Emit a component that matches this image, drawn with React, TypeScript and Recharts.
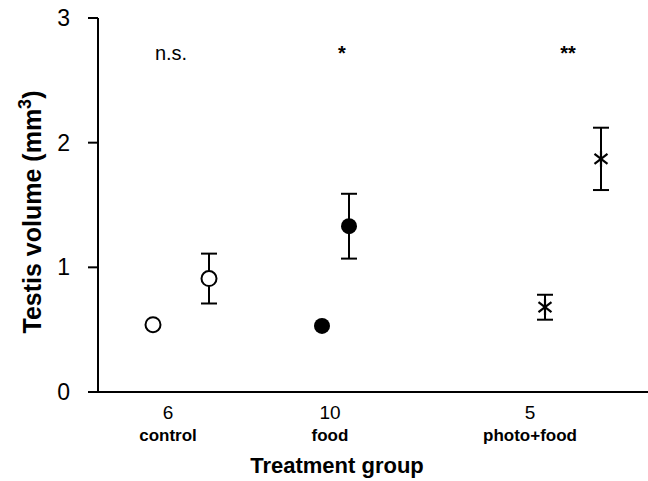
import React from 'react';
import { ErrorBar, Scatter, ScatterChart, XAxis, YAxis } from 'recharts';

// treatment groups and sample sizes shown under the x axis
const groups = ['control', 'food', 'photo+food'];
const sampleSizes = ['6', '10', '5'];
const significance = ['n.s.', '*', '**'];

// positions on the x axis (arbitrary units)
const groupPos = [1.4, 4.64, 8.64];
const beforePos = [1.1, 4.48, 8.94];
const afterPos = [2.22, 5.02, 10.06];
const sigPos = [1.46, 4.88, 9.4];
const sigLevel = 2.7;

// testis volume (mm3), mean and SE
const beforeVolume = [0.54, 0.53, 0.68];
const beforeError = [null, null, 0.1];
const afterVolume = [0.91, 1.33, 1.87];
const afterError = [0.2, 0.26, 0.25];

const FONT = '"Liberation Sans", Arial, sans-serif';

const pointsFor = (g: number) => [
  { x: beforePos[g], y: beforeVolume[g], err: beforeError[g] },
  { x: afterPos[g], y: afterVolume[g], err: afterError[g] },
];

const controlData = pointsFor(0);
const foodData = pointsFor(1);
const photoData = pointsFor(2);
const allData = [...controlData, ...foodData, ...photoData];
const sigData = significance.map((s, i) => ({ x: sigPos[i], y: sigLevel, label: s }));

const OpenCircle = (props: any) => (
  <circle cx={props.cx} cy={props.cy} r={7.5} fill="#fff" stroke="#000" strokeWidth={2} />
);

const FilledCircle = (props: any) => <circle cx={props.cx} cy={props.cy} r={8} fill="#000" />;

const Star = (props: any) => {
  const { cx, cy } = props;
  return (
    <g stroke="#000" strokeWidth={2.2}>
      <line x1={cx} y1={cy - 8} x2={cx} y2={cy + 8} />
      <line x1={cx - 6.5} y1={cy - 5} x2={cx + 6.5} y2={cy + 5} />
      <line x1={cx - 6.5} y1={cy + 5} x2={cx + 6.5} y2={cy - 5} />
    </g>
  );
};

const Nothing = () => <g />;

const SigText = (props: any) => {
  const stars = props.payload.label.startsWith('*');
  return (
    <text
      x={props.cx}
      y={props.cy + 5}
      textAnchor="middle"
      fontSize={stars ? 20 : 20}
      fontWeight={stars ? 'bold' : 'normal'}
      fontFamily={FONT}
      fill="#000"
    >
      {props.payload.label}
    </text>
  );
};

const GroupTick = (props: any) => {
  const { x, y, payload } = props;
  const i = groupPos.indexOf(payload.value);
  return (
    <g fontFamily={FONT} fill="#000">
      <text x={x} y={y + 25} textAnchor="middle" fontSize={19}>
        {sampleSizes[i]}
      </text>
      <text x={x} y={y + 47} textAnchor="middle" fontSize={17} fontWeight="bold">
        {groups[i]}
      </text>
    </g>
  );
};

const App = () => (
  <div style={{ position: 'absolute', left: 0, top: 0 }}>
    <ScatterChart width={648} height={481} margin={{ top: 18, right: 0, bottom: 0, left: 0 }}>
      <XAxis
        type="number"
        dataKey="x"
        domain={[0, 11]}
        ticks={groupPos}
        tick={<GroupTick />}
        tickLine={false}
        tickSize={0}
        height={89}
        axisLine={{ stroke: '#000', strokeWidth: 2 }}
        label={{
          content: () => (
            <text x={337} y={473} textAnchor="middle" fontSize={22} fontWeight="bold" fontFamily={FONT} fill="#000">
              Treatment group
            </text>
          ),
        }}
      />
      <YAxis
        type="number"
        dataKey="y"
        domain={[0, 3]}
        ticks={[0, 1, 2, 3]}
        width={98}
        tickSize={10}
        tickMargin={18}
        axisLine={{ stroke: '#000', strokeWidth: 2 }}
        tickLine={{ stroke: '#000', strokeWidth: 2 }}
        tick={{ fill: '#000', fontSize: 23, fontFamily: FONT }}
        label={{
          content: () => (
            <text
              transform="translate(41,212) rotate(-90)"
              textAnchor="middle"
              fontSize={25}
              fontWeight="bold"
              fontFamily={FONT}
              fill="#000"
            >
              Testis volume (mm<tspan dy={-10} fontSize={18}>3</tspan>
              <tspan dy={10}>)</tspan>
            </text>
          ),
        }}
      />
      <Scatter data={allData} shape={<Nothing />} isAnimationActive={false}>
        <ErrorBar dataKey="err" direction="y" width={8} stroke="#000" strokeWidth={2} />
      </Scatter>
      <Scatter data={controlData} shape={<OpenCircle />} isAnimationActive={false} />
      <Scatter data={foodData} shape={<FilledCircle />} isAnimationActive={false} />
      <Scatter data={photoData} shape={<Star />} isAnimationActive={false} />
      <Scatter data={sigData} shape={<SigText />} isAnimationActive={false} />
    </ScatterChart>
  </div>
);

export default App;
